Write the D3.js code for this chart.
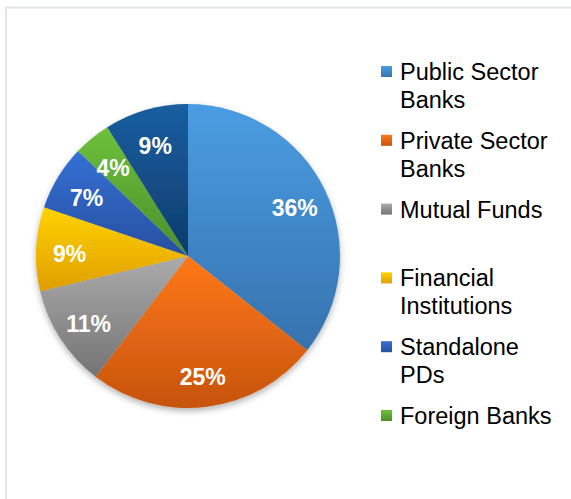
<!DOCTYPE html>
<html>
<head>
<meta charset="utf-8">
<script src="https://cdn.jsdelivr.net/npm/d3@7"></script>
<style>
  body { margin: 0; background: #fff; }
  text { font-family: "Liberation Sans", Arial, sans-serif; }
</style>
</head>
<body>
<svg id="chart" width="571" height="499"></svg>
<script>
// sector shares, clockwise from 12 o'clock
var categories = ["Public Sector Banks", "Private Sector Banks", "Mutual Funds", "Financial Institutions", "Standalone PDs", "Foreign Banks", "Others"]
var shares = [36, 25, 11, 9, 7, 4, 9]
var legendLines = [["Public Sector", "Banks"], ["Private Sector", "Banks"], ["Mutual Funds"], ["Financial", "Institutions"], ["Standalone", "PDs"], ["Foreign Banks"]]

// top / bottom colour of each slice gradient
var topColors = ["#4A9DE2", "#FF7818", "#ABABAB", "#FFD300", "#3470D6", "#6EC13B", "#1A5EA0"]
var bottomColors = ["#3672AE", "#C6540E", "#747474", "#DF9E00", "#27509F", "#4A8E2B", "#0D3C6C"]

var svg = d3.select("#chart")
var defs = svg.append("defs")

categories.forEach(function (c, i) {
  var g = defs.append("linearGradient")
    .attr("id", "grad-" + i)
    .attr("x1", "0%").attr("y1", "0%")
    .attr("x2", "0%").attr("y2", "100%")
  g.append("stop").attr("offset", "0%").attr("stop-color", topColors[i])
  g.append("stop").attr("offset", "100%").attr("stop-color", bottomColors[i])
})

var shadow = defs.append("filter").attr("id", "shadow")
  .attr("x", "-20%").attr("y", "-20%").attr("width", "140%").attr("height", "140%")
shadow.append("feDropShadow")
  .attr("dx", 0).attr("dy", 3).attr("stdDeviation", 3)
  .attr("flood-color", "#000").attr("flood-opacity", 0.3)

// chart frame (runs off the right and bottom)
svg.append("rect")
  .attr("x", 6).attr("y", 7.5)
  .attr("width", 620).attr("height", 600)
  .attr("fill", "none")
  .attr("stroke", "#E2E6EB")
  .attr("stroke-width", 2)

var cx = 188, cy = 256, R = 152

var pie = d3.pie().sort(null).value(function (d) { return d })
var arcs = pie(shares)

var arc = d3.arc().innerRadius(0).outerRadius(R)
var labelArc = d3.arc().innerRadius(R * 0.78).outerRadius(R * 0.78)

var g = svg.append("g").attr("transform", "translate(" + cx + "," + cy + ")")

g.append("g").attr("filter", "url(#shadow)")
  .selectAll("path")
  .data(arcs)
  .enter().append("path")
  .attr("d", arc)
  .attr("fill", function (d, i) { return "url(#grad-" + i + ")" })

g.selectAll("text.pct")
  .data(arcs)
  .enter().append("text")
  .attr("class", "pct")
  .attr("transform", function (d) { return "translate(" + labelArc.centroid(d) + ")" })
  .attr("text-anchor", "middle")
  .attr("dy", "0.5em")
  .style("font-size", "23px")
  .style("font-weight", "bold")
  .style("fill", "#fff")
  .text(function (d) { return d.data + "%" })

// legend, the last category does not fit
var legend = svg.append("g").attr("transform", "translate(381, 0)")
var rowY = d3.scaleLinear().domain([0, 1]).range([80, 148.8])

legendLines.forEach(function (lines, i) {
  var row = legend.append("g").attr("transform", "translate(0," + rowY(i) + ")")
  row.append("rect")
    .attr("x", 0).attr("y", -14)
    .attr("width", 11).attr("height", 11)
    .attr("fill", "url(#grad-" + i + ")")
  var t = row.append("text")
    .attr("x", 19).attr("y", 0)
    .style("font-size", "23.5px")
    .style("fill", "#000")
  lines.forEach(function (l, k) {
    t.append("tspan").attr("x", 19).attr("y", k * 28).text(l)
  })
})
</script>
</body>
</html>
